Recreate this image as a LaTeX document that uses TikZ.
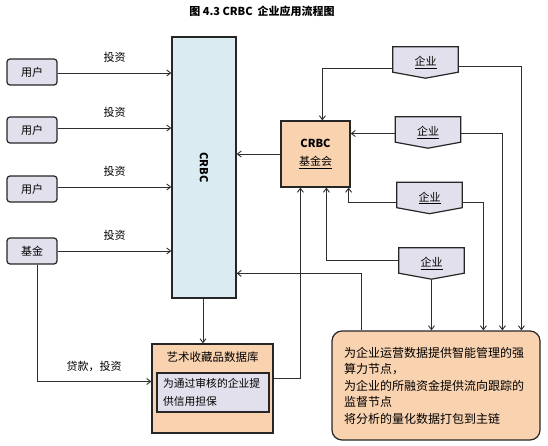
\documentclass[tikz,border=0pt]{standalone}
\usepackage{fontspec}
\setmainfont{Noto Sans CJK SC}
\usetikzlibrary{arrows.meta,calc}
\pgfdeclarelayer{background}
\pgfsetlayers{background,main}
\definecolor{bluef}{HTML}{DAECF2}
\definecolor{peach}{HTML}{F9D2B0}
\definecolor{lav}{HTML}{E2E0EC}
\definecolor{edge}{HTML}{262626}
\definecolor{wire}{HTML}{2E2E2E}
\begin{document}
\begin{tikzpicture}[x=1pt,y=-1pt,
  box/.style={draw=edge, line width=1.2pt, inner sep=0pt, font=\fontsize{11}{13}\selectfont},
  userbox/.style={box, fill=lav, rounded corners=3pt, minimum width=50pt, minimum height=26pt},
  ent/.style={inner sep=0pt, minimum width=65pt, minimum height=31pt, font=\fontsize{11}{13}\selectfont},
  entshape/.style={draw=edge, line width=1.2pt, fill=lav},
  lbl/.style={font=\fontsize{11}{13}\selectfont, inner sep=1pt},
  ln/.style={draw=wire, line width=0.9pt},
  arr/.style={ln, -{Straight Barb[length=4pt,width=6pt]}}
]
\useasboundingbox (0,0) rectangle (548,446);

% title
\node[font=\bfseries\fontsize{11}{13}\selectfont] (title) at (262,11) {图 4.3 CRBC\ \ 企业应用流程图};

% left boxes
\node[userbox] (u1) at (32,72) {用户};
\node[userbox] (u2) at (32,130) {用户};
\node[userbox] (u3) at (32,189) {用户};
\node[userbox] (fund) at (32,251) {基金};

% CRBC
\node[box, fill=bluef, minimum width=64pt, minimum height=261pt,
  label={[rotate=-90, font=\bfseries\fontsize{11}{13}\selectfont]center:CRBC}] (crbc) at (204,167.5) {};

% foundation
\node[box, fill=peach, minimum width=69pt, minimum height=66pt, align=center,
  font=\fontsize{11}{18}\selectfont] (jjh) at (315.5,154) {\textbf{CRBC}\\\underline{基金会}};

% enterprises
\node[ent] (e1) at (425.5,62.5) {\raisebox{1pt}{\underline{企业}}};
\node[ent] (e2) at (428,132.5) {\raisebox{2pt}{\underline{企业}}};
\node[ent] (e3) at (429.5,198) {\raisebox{2pt}{\underline{企业}}};
\node[ent] (e4) at (431.5,263.5) {\raisebox{2pt}{\underline{企业}}};
\begin{pgfonlayer}{background}
\foreach \e in {e1,e2,e3,e4}{
  \path[entshape] (\e.north west) -- (\e.north east) -- ($(\e.south east)+(0,-6)$)
    -- (\e.south) -- ($(\e.south west)+(0,-6)$) -- cycle;
}
\end{pgfonlayer}

% art database
\node[box, fill=peach, minimum width=121pt, minimum height=89pt] (art) at (212.5,388.5) {};
\node[font=\fontsize{11.5}{13}\selectfont] (arttitle) at (212.5,357) {艺术收藏品数据库};
\node[box, fill=lav, minimum width=112pt, minimum height=39pt, text width=100pt, align=left,
  font=\fontsize{10.8}{18}\selectfont] (guar) at (213,392.5) {为通过审核的企业提\\供信用担保};

% info box
\node[box, fill=peach, rounded corners=10pt, minimum width=208pt, minimum height=109pt,
  text width=184pt, align=left, font=\fontsize{12}{16.5}\selectfont] (info) at (436,385.5)
  {为企业运营数据提供智能管理的强\\算力节点，\\为企业的所融资金提供流向跟踪的\\监督节点\\将分析的量化数据打包到主链};

% investments
\draw[arr] ($(u1.east)+(0,1)$) -- ($(u1.east -| crbc.west)+(0,1)$) node[lbl, midway, above=9pt] {投资};
\draw[arr] ($(u2.east)+(0,-2)$) -- ($(u2.east -| crbc.west)+(0,-2)$) node[lbl, midway, above=9pt] {投资};
\draw[arr] ($(u3.east)+(0,-2)$) -- ($(u3.east -| crbc.west)+(0,-2)$) node[lbl, midway, above=9pt] {投资};
\draw[arr] (fund.east) -- (fund.east -| crbc.west) node[lbl, midway, above=9pt] {投资};

% foundation to CRBC
\draw[arr] (jjh.west) -- (jjh.west -| crbc.east);

% CRBC to art db
\draw[arr] ($(crbc.south)+(-1,0)$) -- ($(crbc.south |- art.north)+(-1,0)$);

% fund loans
\draw[arr] ($(fund.south)+(5,0)$) |- ($(art.west)+(0,-7)$) node[lbl, pos=0.75, above=8pt] {贷款，投资};

% art db to foundation
\draw[arr] ($(art.east)+(0,-10)$) -| ($(jjh.south west)+(20,0)$);

% enterprises to foundation
\draw[arr] ($(e1.west)+(0,6)$) -| ($(jjh.north west)+(42,0)$);
\draw[arr] ($(e2.west)+(0,1)$) -- ($(e2.west -| jjh.east)+(0,1)$);
\draw[arr] ($(e3.west)+(0,4)$) -| ($(jjh.south east)+(-2,0)$);
\draw[arr] ($(e4.west)+(0,-3)$) -| ($(jjh.south west)+(46,0)$);

% enterprises to info
\draw[arr] ($(e1.east)+(0,4)$) -| ($(info.north west)+(190,0)$);
\draw[arr] ($(e2.east)+(0,1)$) -| ($(info.north west)+(171,0)$);
\draw[arr] ($(e3.east)+(0,4)$) -| ($(info.north west)+(152,0)$);
\draw[arr] (e4.south) -- (e4.south |- info.north);

% info to CRBC
\draw[arr] ($(info.north west)+(30,0)$) |- ($(crbc.north east)+(0,237)$);
\end{tikzpicture}
\end{document}
